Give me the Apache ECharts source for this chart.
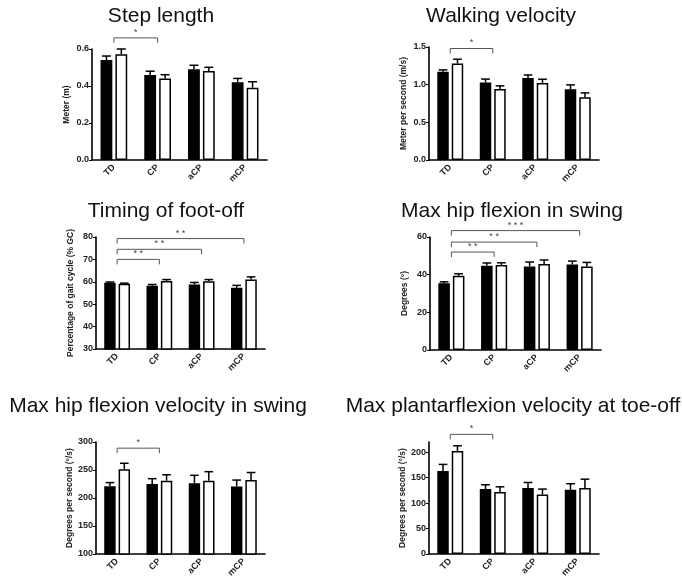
<!DOCTYPE html>
<html>
<head>
<meta charset="utf-8">
<script src="https://cdn.jsdelivr.net/npm/echarts@6/dist/echarts.min.js"></script>
<style>
html, body { margin: 0; padding: 0; background: #fff; }
#main { width: 682px; height: 586px; }
</style>
</head>
<body>
<div id="main"></div>
<script>
var groups = ['TD', 'CP', 'aCP', 'mCP'];

// black bars / white bars : mean and upper error
var stepBlack = [0.54, 0.46, 0.49, 0.42];
var stepBlackErr = [0.022, 0.02, 0.022, 0.021];
var stepWhite = [0.571, 0.441, 0.481, 0.391];
var stepWhiteErr = [0.029, 0.02, 0.02, 0.032];
var stepSig = [[0, 1, 0.66, '*']];

var velBlack = [1.17, 1.03, 1.09, 0.94];
var velBlackErr = [0.026, 0.044, 0.039, 0.057];
var velWhite = [1.28, 0.944, 1.023, 0.834];
var velWhiteErr = [0.058, 0.04, 0.049, 0.057];
var velSig = [[0, 1, 1.48, '*']];

var footBlack = [59.6, 58.2, 58.8, 57.3];
var footBlackErr = [0.3, 0.6, 0.9, 1.1];
var footWhite = [59.1, 60.4, 60.2, 61.0];
var footWhiteErr = [0.3, 0.6, 0.8, 1.2];
var footSig = [[0, 1, 70, '* *'], [0, 2, 74.5, '* *'], [0, 3, 79.3, '* *']];

var hipBlack = [35.5, 44.7, 44.4, 45.4];
var hipBlackErr = [0.7, 1.5, 2.3, 1.8];
var hipWhite = [39.4, 45.1, 45.6, 44.4];
var hipWhiteErr = [1.1, 1.2, 2.2, 2.1];
var hipSig = [[0, 1, 52, '* *'], [0, 2, 57.3, '* *'], [0, 3, 63.4, '* * *']];

var hipVelBlack = [221, 225, 226.5, 220.5];
var hipVelBlackErr = [6.5, 9.5, 14, 11.5];
var hipVelWhite = [251.5, 231, 231, 232];
var hipVelWhiteErr = [10.5, 10.5, 16, 13.5];
var hipVelSig = [[0, 1, 289, '*']];

var plantBlack = [163, 127.5, 129.5, 126];
var plantBlackErr = [13, 8.5, 11, 12];
var plantWhite = [202.5, 122, 117, 129.5];
var plantWhiteErr = [10, 10, 10.5, 17.5];
var plantSig = [[0, 1, 235, '*']];

var panels = [
    { title: 'Step length', tx: 161, ty: 16.5, yName: 'Meter (m)', box: [92, 49, 175, 111],
      min: 0, max: 0.6, interval: 0.2, dec: 1,
      black: stepBlack, blackErr: stepBlackErr, white: stepWhite, whiteErr: stepWhiteErr, sig: stepSig },
    { title: 'Walking velocity', tx: 501, ty: 16.5, yName: 'Meter per second (m/s)', box: [429, 47, 170, 113],
      min: 0, max: 1.5, interval: 0.5, dec: 1,
      black: velBlack, blackErr: velBlackErr, white: velWhite, whiteErr: velWhiteErr, sig: velSig },
    { title: 'Timing of foot-off', tx: 166, ty: 211.5, yName: 'Percentage of gait cycle (% GC)', box: [96, 237, 169, 112],
      min: 30, max: 80, interval: 10, dec: 0,
      black: footBlack, blackErr: footBlackErr, white: footWhite, whiteErr: footWhiteErr, sig: footSig },
    { title: 'Max hip flexion in swing', tx: 512, ty: 211.5, yName: 'Degrees (\u00b0)', box: [430, 237, 171, 113],
      min: 0, max: 60, interval: 20, dec: 0,
      black: hipBlack, blackErr: hipBlackErr, white: hipWhite, whiteErr: hipWhiteErr, sig: hipSig },
    { title: 'Max hip flexion velocity in swing', tx: 158, ty: 406.5, yName: 'Degrees per second (\u00b0/s)', box: [96, 442, 169, 112],
      min: 100, max: 300, interval: 50, dec: 0,
      black: hipVelBlack, blackErr: hipVelBlackErr, white: hipVelWhite, whiteErr: hipVelWhiteErr, sig: hipVelSig },
    { title: 'Max plantarflexion velocity at toe-off', tx: 513, ty: 406.5, yName: 'Degrees per second (\u00b0/s)', box: [429, 442, 170, 112],
      min: 0, max: 220, interval: 50, dec: 0, ticks: [0, 50, 100, 150, 200],
      black: plantBlack, blackErr: plantBlackErr, white: plantWhite, whiteErr: plantWhiteErr, sig: plantSig }
];

var BAR = 0.27, GAP = 0.07;

function renderErr(params, api) {
    var idx = api.value(0), mean = api.value(1), err = api.value(2), side = api.value(3);
    var band = api.size([1, 0])[0];
    var p0 = api.coord([idx, mean]);
    var p1 = api.coord([idx, mean + err]);
    var x = p0[0] + side * (band * BAR + band * GAP) / 2;
    var half = band * BAR * 0.38;
    return {
        type: 'group',
        children: [
            { type: 'line', shape: { x1: x, y1: p0[1], x2: x, y2: p1[1] }, style: { stroke: '#000', lineWidth: 1.5 } },
            { type: 'line', shape: { x1: x - half, y1: p1[1], x2: x + half, y2: p1[1] }, style: { stroke: '#000', lineWidth: 1.5 } }
        ]
    };
}

function renderSig(params, api) {
    var a = api.coord([api.value(0), api.value(2)]);
    var b = api.coord([api.value(1), api.value(2)]);
    var label = params.context.labels[params.dataIndex];
    return {
        type: 'group',
        children: [
            { type: 'polyline', shape: { points: [[a[0], a[1] + 5], [a[0], a[1]], [b[0], b[1]], [b[0], b[1] + 5]] },
              style: { stroke: '#555', lineWidth: 1, fill: null } },
            { type: 'text', x: (a[0] + b[0]) / 2, y: a[1] - 1,
              style: { text: label, align: 'center', verticalAlign: 'bottom', fill: '#444', font: '9px "Liberation Sans", Arial, sans-serif' } }
        ]
    };
}

var grid = [], xAxis = [], yAxis = [], series = [], graphic = [];
var axisFont = '"Liberation Sans", Arial, sans-serif';

panels.forEach(function (p, i) {
    grid.push({ left: p.box[0], top: p.box[1], width: p.box[2], height: p.box[3], containLabel: false });
    xAxis.push({
        type: 'category', gridIndex: i, data: groups,
        axisLine: { lineStyle: { color: '#000', width: 1.6 } },
        axisTick: { alignWithLabel: true, length: 3, lineStyle: { color: '#000', width: 1 } },
        axisLabel: { rotate: 45, margin: 6, color: '#222', fontSize: 9, fontWeight: 'bold', fontFamily: axisFont }
    });
    var yAx = {
        type: 'value', gridIndex: i, min: p.min, max: p.max, interval: p.interval,
        name: p.yName, nameLocation: 'middle', nameGap: 21, nameRotate: 90,
        nameTextStyle: { color: '#222', fontSize: 8.5, fontWeight: 'bold', fontFamily: axisFont },
        splitLine: { show: false },
        axisLine: { show: true, lineStyle: { color: '#000', width: 1.6 } },
        axisTick: { show: true, length: 3, lineStyle: { color: '#000', width: 1 } },
        axisLabel: { margin: 3, color: '#222', fontSize: 9, fontWeight: 'bold', fontFamily: axisFont,
            formatter: (function (d) { return function (v) { return v.toFixed(d); }; })(p.dec) }
    };
    if (p.ticks) {
        yAx.axisTick.customValues = p.ticks;
        yAx.axisLabel.customValues = p.ticks;
    }
    yAxis.push(yAx);

    series.push({
        type: 'bar', xAxisIndex: i, yAxisIndex: i, data: p.black,
        barWidth: (BAR * 100) + '%', barGap: Math.round(GAP / BAR * 100) + '%',
        itemStyle: { color: '#000', borderColor: '#000', borderWidth: 1.5 }, z: 2
    });
    series.push({
        type: 'bar', xAxisIndex: i, yAxisIndex: i, data: p.white,
        barWidth: (BAR * 100) + '%', barGap: Math.round(GAP / BAR * 100) + '%',
        itemStyle: { color: '#fff', borderColor: '#000', borderWidth: 1.5 }, z: 2
    });

    var errData = [];
    for (var k = 0; k < groups.length; k++) {
        errData.push([k, p.black[k], p.blackErr[k], -1]);
        errData.push([k, p.white[k], p.whiteErr[k], 1]);
    }
    series.push({
        type: 'custom', xAxisIndex: i, yAxisIndex: i, renderItem: renderErr, data: errData, z: 3,
        encode: { x: 0, y: 1 }, silent: true
    });

    var labels = p.sig.map(function (s) { return s[3]; });
    series.push({
        type: 'custom', xAxisIndex: i, yAxisIndex: i, z: 4, clip: false, silent: true,
        renderItem: function (params, api) { params.context.labels = labels; return renderSig(params, api); },
        data: p.sig.map(function (s) { return [s[0], s[1], s[2]]; }),
        encode: { x: [0, 1], y: 2 }
    });

    graphic.push({
        type: 'text', x: p.tx, y: p.ty,
        style: { text: p.title, align: 'center', verticalAlign: 'middle', fill: '#111',
                 font: '21px "Liberation Sans", Arial, sans-serif' }
    });
});

var chart = echarts.init(document.getElementById('main'));
chart.setOption({
    backgroundColor: '#fff',
    animation: false,
    grid: grid,
    xAxis: xAxis,
    yAxis: yAxis,
    series: series,
    graphic: graphic
});
</script>
</body>
</html>
